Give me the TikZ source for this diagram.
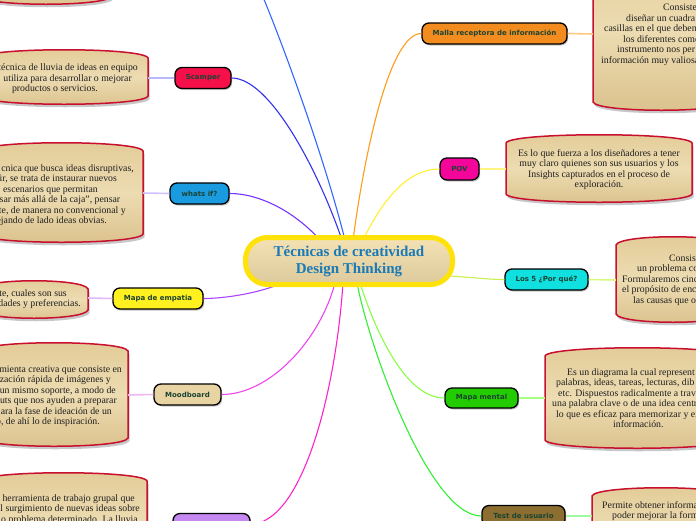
\documentclass[tikz,border=0pt]{standalone}
\usepackage{fontspec}
\setmainfont{Liberation Serif}
\newfontfamily\dfont{Liberation Serif}
\newfontfamily\nfont{DejaVu Sans}
\usetikzlibrary{shadows}
\definecolor{boxred}{HTML}{C8102E}
\definecolor{nodetext}{HTML}{1B4332}
\definecolor{ctext}{HTML}{1A7AB5}
\definecolor{cborder}{HTML}{FFE20A}
\definecolor{ctop}{HTML}{F4E1B4}
\definecolor{cbot}{HTML}{DCC99C}
\definecolor{btop}{HTML}{E2CB97}
\definecolor{bmid}{HTML}{EDDCB2}
\definecolor{bbot}{HTML}{DBC28D}
\definecolor{fScamper}{HTML}{F5104A}
\definecolor{fWhats}{HTML}{1A9BE0}
\definecolor{fEmpatia}{HTML}{FFF020}
\definecolor{fMood}{HTML}{E8D3A3}
\definecolor{fBottom}{HTML}{C488F0}
\definecolor{fMalla}{HTML}{F28C1E}
\definecolor{fPov}{HTML}{F5069B}
\definecolor{fLos}{HTML}{10E0E0}
\definecolor{fMental}{HTML}{22CC00}
\definecolor{fTest}{HTML}{8C6E30}
\definecolor{lTop}{HTML}{3366FF}
\definecolor{lScamper}{HTML}{3333EE}
\definecolor{lWhats}{HTML}{7733FF}
\definecolor{lMalla}{HTML}{FF9C1A}
\definecolor{lPov}{HTML}{FFF030}
\definecolor{lLos}{HTML}{C8F050}
\definecolor{lMental}{HTML}{88FF44}
\definecolor{lTest}{HTML}{33EE33}
\definecolor{lMood}{HTML}{EE44EE}
\definecolor{lBottom}{HTML}{FF22CC}
\definecolor{lEmpatia}{HTML}{AA44FF}
\definecolor{sScamper}{HTML}{B8B8FF}
\definecolor{sWhats}{HTML}{CFC0FF}
\definecolor{sEmpatia}{HTML}{E4B8FF}
\definecolor{sMood}{HTML}{F0B8F0}
\definecolor{sMalla}{HTML}{FFC880}
\definecolor{sPov}{HTML}{FFF580}
\definecolor{sLos}{HTML}{D8F880}
\definecolor{sMental}{HTML}{A8FF80}
\definecolor{sTest}{HTML}{A0F8A0}
\newcommand\dboxpath[4]{({#1},{#2+8}) .. controls ({#1+4},{#2-3}) and ({#3-4},{#2-3}) .. ({#3},{#2+8}) -- ({#3},{#4-8}) .. controls ({#3-4},{#4+3}) and ({#1+4},{#4+3}) .. ({#1},{#4-8}) -- cycle}
\newcommand\dbox[4]{%
  \fill[black!22,shift={(1.5pt,-3pt)}] \dboxpath{#1}{#2}{#3}{#4};
  \draw[draw=boxred,line width=1.5pt,top color=btop,bottom color=bbot,middle color=bmid] \dboxpath{#1}{#2}{#3}{#4};}
\begin{document}
\begin{tikzpicture}[x=1pt,y=-1pt,
  br/.style={draw=black,line width=1.3pt,rounded corners=7pt,inner sep=0pt,
    font=\nfont\bfseries\fontsize{7}{8}\selectfont,text=nodetext,
    drop shadow={shadow xshift=1.2pt,shadow yshift=-1.5pt,fill=black!45}},
  conn/.style={line width=1.1pt},
  sub/.style={line width=1.6pt},
  dl/.style={font=\dfont\fontsize{9.8}{10.6}\selectfont,inner sep=0pt,anchor=base east,text=black!88},
  dlw/.style={font=\dfont\fontsize{9.8}{10.6}\selectfont,inner sep=0pt,anchor=base west,text=black!88},
  dr/.style={font=\dfont\fontsize{9.8}{10.6}\selectfont,inner sep=0pt,anchor=base west,text=black!88},
  dc/.style={font=\dfont\fontsize{9.8}{10.6}\selectfont,inner sep=0pt,anchor=base,text=black!88}]
\path[use as bounding box] (0,0) rectangle (696,520);
\begin{scope}
\clip (0,0) rectangle (696,520);
% description boxes
\dbox{-20}{-60}{112}{4}
\dbox{-20}{50}{148}{104}
\dbox{-20}{143}{143}{242}
\dbox{-20}{281}{88}{318}
\dbox{-20}{343}{128}{446}
\dbox{-20}{473}{147}{570}
\dbox{593}{-50}{730}{110}
\dbox{506}{135}{692}{202}
\dbox{616}{237}{730}{322}
\dbox{545}{348}{730}{448}
\dbox{592}{488}{730}{570}
% texts of description boxes (left side)
\node[dl] (sc1) at (138,70) {técnica de lluvia de ideas en equipo};
\node[dl] (sc2) at (132,81) {utiliza para desarrollar o mejorar};
\node[dl] (sc3) at (98,91) {productos o servicios.};
\node[dl] (wi1) at (134,171) {cnica que busca ideas disruptivas,};
\node[dlw] (wi2) at (-0.5,181.5) {ir, se trata de instaurar nuevos};
\node[dl] (wi3) at (98,192) {escenarios que permitan};
\node[dlw] (wi4) at (-0.5,202.5) {sar más allá de la caja”, pensar};
\node[dl] (wi5) at (126,213) {te, de manera no convencional y};
\node[dl] (wi6) at (107,223.5) {ejando de lado ideas obvias.};
\node[dl] (em1) at (67,296) {te, cuales son sus};
\node[dl] (em2) at (81,306.5) {dades y preferencias.};
\node[dl] (mo1) at (122,372) {mienta creativa que consiste en};
\node[dl] (mo2) at (111,382.5) {zación rápida de imágenes y};
\node[dl] (mo3) at (116,393) {un mismo soporte, a modo de};
\node[dl] (mo4) at (117,403.5) {uts que nos ayuden a preparar};
\node[dl] (mo5) at (112,414) {ara la fase de ideación de un};
\node[dl] (mo6) at (100,424.5) {o, de ahí lo de inspiración.};
\node[dl] (bo1) at (135,501) {herramienta de trabajo grupal que};
\node[dl] (bo2) at (140,511.5) {l surgimiento de nuevas ideas sobre};
\node[dl] (bo3) at (138,522) {o problema determinado. La lluvia};
% texts of description boxes (right side)
\node[dr] (ma1) at (663,10.5) {Consiste};
\node[dr] (ma2) at (626,21) {diseñar un cuadra};
\node[dr] (ma3) at (604,31.5) {casillas en el que deben};
\node[dr] (ma4) at (623,42) {los diferentes come};
\node[dr] (ma5) at (617,52.5) {instrumento nos per};
\node[dr] (ma6) at (601,63) {información muy valiosa};
\node[dc] (po1) at (599,156) {Es lo que fuerza a los diseñadores a tener};
\node[dc] (po2) at (599,166.5) {muy claro quienes son sus usuarios y los};
\node[dc] (po3) at (599,177) {Insights capturados en el proceso de};
\node[dc] (po4) at (599,187.5) {exploración.};
\node[dr] (lo1) at (669,261) {Consist};
\node[dr] (lo2) at (637,271.5) {un problema co};
\node[dr] (lo3) at (622,282) {Formularemos cinc};
\node[dr] (lo4) at (622,292.5) {el propósito de enc};
\node[dr] (lo5) at (633,303) {las causas que o};
\node[dr] (mm1) at (567,375) {Es un diagrama la cual represent};
\node[dr] (mm2) at (556,385.5) {palabras, ideas, tareas, lecturas, dib};
\node[dr] (mm3) at (558,396) {etc. Dispuestos radicalmente a trav};
\node[dr] (mm4) at (552,406.5) {una palabra clave o de una idea centr};
\node[dr] (mm5) at (556,417) {lo que es eficaz para memorizar y ex};
\node[dr] (mm6) at (613,427.5) {información.};
\node[dr] (te1) at (602,508) {Permite obtener informa};
\node[dr] (te2) at (612,518.5) {poder mejorar la forma};
% anchor points
\coordinate (cTop) at (345,240);
\coordinate (cSc) at (342,240);
\coordinate (cWi) at (320,240);
\coordinate (cMa) at (353,240);
\coordinate (cPov) at (363,240);
\coordinate (cLos) at (450,276);
\coordinate (cMm) at (360,283);
\coordinate (cTe) at (357,283);
\coordinate (cMo) at (335,283);
\coordinate (cBo) at (343,283);
\coordinate (cEm) at (282,283);
\coordinate (topEnd) at (263,-3);
\coordinate (bSc) at (148,78);
\coordinate (bWi) at (143,193);
\coordinate (bEm) at (88,298);
\coordinate (bMo) at (128,395);
\coordinate (bMa) at (593,34);
\coordinate (bPov) at (506,169);
\coordinate (bLos) at (616,280);
\coordinate (bMm) at (545,398);
\coordinate (bTe) at (592,516);
% branch nodes
\node[br,fill=fScamper,minimum width=56pt,minimum height=21pt] (scamper) at (203,78) {Scamper};
\node[br,fill=fWhats,minimum width=59pt,minimum height=21pt] (whatsif) at (199.5,193.5) {whats if?};
\node[br,fill=fEmpatia,minimum width=90pt,minimum height=21pt] (empatia) at (158,298.5) {Mapa de empatia};
\node[br,fill=fMood,minimum width=67pt,minimum height=21pt] (mood) at (187.5,394.5) {Moodboard};
\node[br,fill=fBottom,minimum width=77pt,minimum height=21pt] (bottom) at (211.5,524) {};
\node[br,fill=fMalla,minimum width=145pt,minimum height=21pt] (malla) at (494.5,33.5) {Malla receptora de información};
\node[br,fill=fPov,minimum width=39pt,minimum height=22pt] (pov) at (459.5,169) {POV};
\node[br,fill=fLos,minimum width=83pt,minimum height=21pt] (los) at (546.5,279.5) {Los 5 ¿Por qué?};
\node[br,fill=fMental,minimum width=73pt,minimum height=20pt] (mental) at (481.5,398) {Mapa mental};
\node[br,fill=fTest,minimum width=83pt,minimum height=21pt] (test) at (523.5,516) {Test de usuario};
% sub connectors
\draw[sub,sScamper] (scamper.west) -- (bSc);
\draw[sub,sWhats] (whatsif.west) -- (bWi);
\draw[sub,sEmpatia] (empatia.west) -- (bEm);
\draw[sub,sMood] (mood.west) -- (bMo);
\draw[sub,sMalla] (malla.east) -- (bMa);
\draw[sub,sPov] (pov.east) -- (bPov);
\draw[sub,sLos] (los.east) -- (bLos);
\draw[sub,sMental] (mental.east) -- (bMm);
\draw[sub,sTest] (test.east) -- (bTe);
% main connectors
\draw[conn,lTop] (cTop) .. controls (325,160) and (285,50) .. (topEnd);
\draw[conn,lScamper] (cSc) .. controls (318,170) and (270,78) .. (scamper.east);
\draw[conn,lWhats] (cWi) .. controls (295,212) and (260,193.5) .. (whatsif.east);
\draw[conn,lMalla] (cMa) .. controls (365,150) and (390,33.5) .. (malla.west);
\draw[conn,lPov] (cPov) .. controls (385,195) and (410,169) .. (pov.west);
\draw[conn,lLos] (cLos) .. controls (480,278) and (490,279.5) .. (los.west);
\draw[conn,lMental] (cMm) .. controls (375,330) and (405,398) .. (mental.west);
\draw[conn,lTest] (cTe) .. controls (370,350) and (430,516) .. (test.west);
\draw[conn,lMood] (cMo) .. controls (320,340) and (270,394.5) .. (mood.east);
\draw[conn,lBottom] (cBo) .. controls (335,400) and (300,524) .. (bottom.east);
\draw[conn,lEmpatia] (cEm) .. controls (260,293) and (225,298.5) .. (empatia.east);
% central node
\node[draw=cborder,line width=5pt,rounded corners=22pt,top color=ctop,bottom color=cbot,
  minimum width=207pt,minimum height=47pt,inner sep=0pt,align=center,
  font=\bfseries\fontsize{15}{17}\selectfont,text=ctext] (center) at (349,261)
  {Técnicas de creatividad\\Design Thinking};
\end{scope}
\end{tikzpicture}
\end{document}
